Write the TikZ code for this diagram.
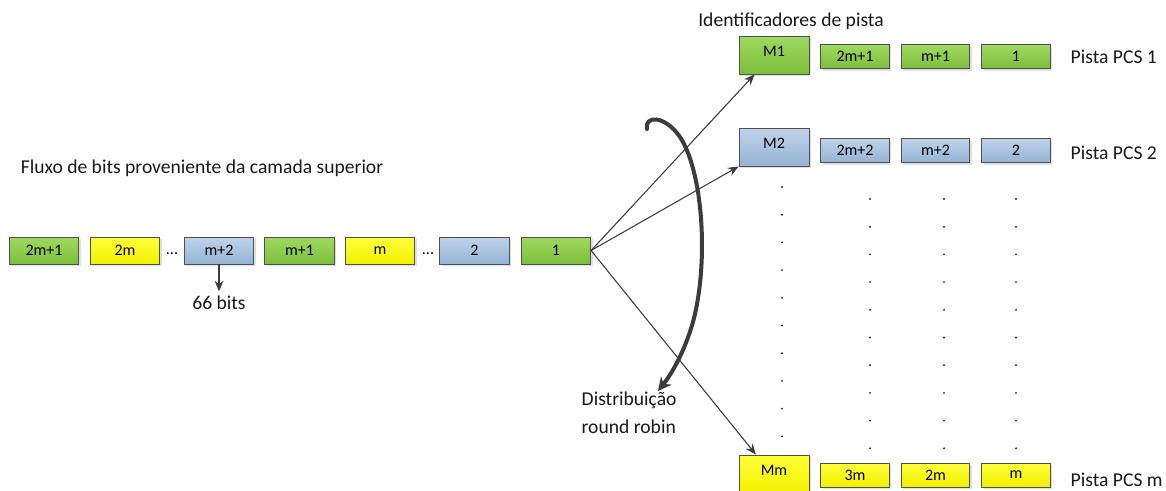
\documentclass[tikz,border=0pt]{standalone}
\usepackage{fontspec}
\setmainfont{Carlito}
\usetikzlibrary{arrows.meta,shadows,calc}
\definecolor{bordc}{HTML}{505050}
\definecolor{lnc}{HTML}{3C3C3C}
\definecolor{gtop}{HTML}{9ED95F}
\definecolor{gbot}{HTML}{7DBE3C}
\definecolor{ytop}{HTML}{FFFF3A}
\definecolor{ybot}{HTML}{F2F200}
\definecolor{btop}{HTML}{C0D3E8}
\definecolor{bbot}{HTML}{94B3D5}
\newcommand{\lblfont}{\fontsize{14.7pt}{21pt}\selectfont}
\newcommand{\boxfont}{\fontsize{12pt}{14pt}\selectfont}
\tikzset{
  anybox/.style={draw=bordc, line width=0.65pt, inner sep=0pt, font=\boxfont,
     drop shadow={shadow xshift=1.6pt, shadow yshift=-1.6pt, fill=black!12, opacity=1}},
  blk/.style={anybox, minimum width=52pt, minimum height=20.25pt},
  mbox/.style={anybox, minimum width=52.5pt, minimum height=28.5pt, text depth=6pt},
  sbox/.style={anybox, minimum width=51.5pt, minimum height=18pt},
  grn/.style={top color=gtop, bottom color=gbot},
  yel/.style={top color=ytop, bottom color=ybot},
  blu/.style={top color=btop, bottom color=bbot},
  lbl/.style={font=\lblfont, text=black!90},
  dotsl/.style={font=\boxfont},
  conn/.style={draw=lnc, line width=0.8pt, -{Stealth[length=8pt,width=6.5pt]}},
  rrarrow/.style={draw=lnc, line width=3pt, line cap=round, -{Stealth[length=10pt,width=10pt]}}
}
\begin{document}
\begin{tikzpicture}[x=0.75pt,y=-0.75pt]
\clip (0,0) rectangle (1166,490);
\fill[white] (0,0) rectangle (1166,490);

% headings
\node[lbl] (fl) at (202,168) {Fluxo de bits proveniente da camada superior};
\node[lbl] (id) at (791,21) {Identificadores de pista};

% main stream
\node[blk,grn] (a1) at (44,250.5) {2m+1};
\node[blk,yel] (a2) at (125,250.5) {2m};
\node[dotsl] (d1) at (172,254) {...};
\node[blk,blu] (a3) at (219,250.5) {m+2};
\node[blk,grn] (a4) at (299.5,250.5) {m+1};
\node[blk,yel] (a5) at (380,250.5) {m};
\node[dotsl] (d2) at (428,254) {...};
\node[blk,blu] (a6) at (474.5,250.5) {2};
\node[blk,grn] (a7) at (556,250.5) {1};

\node[lbl] (bits) at (219,303) {66 bits};
\draw[conn] (a3.south) -- (bits.north);

% lanes
\node[mbox,grn] (M1) at (774,55) {M1};
\node[sbox,grn] (r11) at (855,56.5) {2m+1};
\node[sbox,grn] (r12) at (935.5,56.5) {m+1};
\node[sbox,grn] (r13) at (1016,56.5) {1};
\node[lbl,anchor=west] (p1) at (1066,57) {Pista PCS 1};

\node[mbox,blu] (M2) at (774,147) {M2};
\node[sbox,blu] (r21) at (855,150.5) {2m+2};
\node[sbox,blu] (r22) at (935.5,150.5) {m+2};
\node[sbox,blu] (r23) at (1016,150.5) {2};
\node[lbl,anchor=west] (p2) at (1066,153) {Pista PCS 2};

\node[mbox,yel] (Mm) at (774,474) {Mm};
\node[sbox,yel] (r31) at (855,475) {3m};
\node[sbox,yel] (r32) at (935.5,475) {2m};
\node[sbox,yel] (r33) at (1016,475) {m};
\node[lbl,anchor=west] (p3) at (1066,480) {Pista PCS m};

% vertical dots
\foreach \i in {0,...,9} {
  \fill[black!85] (782,187+27.7*\i) circle[radius=0.8pt];
  \foreach \x in {870,944,1016}
    \fill[black!85] (\x,199+27.7*\i) circle[radius=0.8pt];
}

% distribution connectors
\draw[conn] (a7.east) -- ([xshift=12pt]M1.south west);
\draw[conn] (a7.east) -- (M2.south west);
\draw[conn] (a7.east) -- ([xshift=13pt]Mm.north west);

% round robin arrow
\draw[rrarrow] (647,129) .. controls (644,116) and (664,114) .. (680,137)
   .. controls (703,172) and (709,262) .. (693,322)
   .. controls (685,350) and (673,372) .. (658,391);
\node[lbl,align=left,anchor=west] (rr) at (577,413) {Distribuição\\round robin};
\end{tikzpicture}
\end{document}
